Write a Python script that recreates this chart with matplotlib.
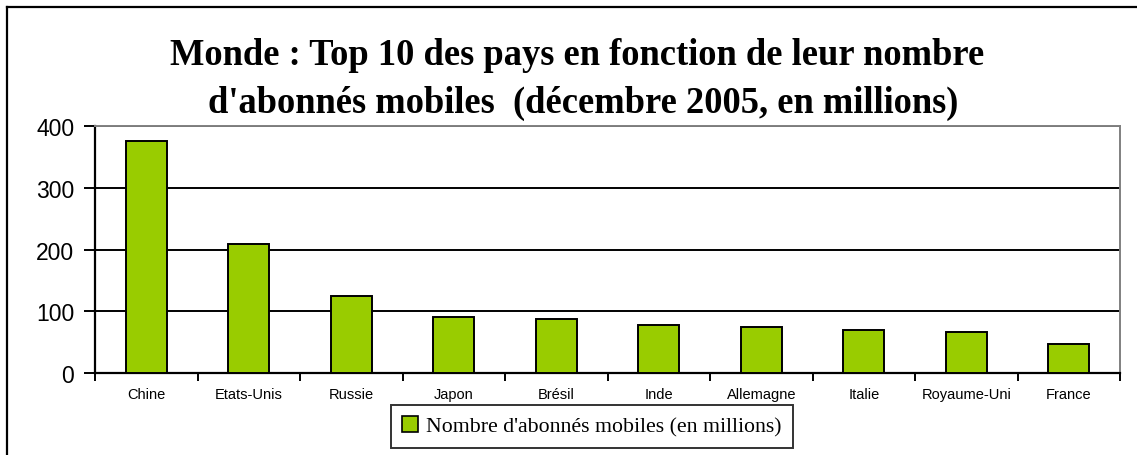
import matplotlib
matplotlib.use("Agg")
import matplotlib.pyplot as plt
from matplotlib.patches import Patch
from matplotlib.lines import Line2D
import numpy as np

categories = ["Chine", "Etats-Unis", "Russie", "Japon", "Brésil", "Inde",
              "Allemagne", "Italie", "Royaume-Uni", "France"]
values = [375, 209, 125, 91, 88, 78, 75, 69, 66, 47]
yticks = [0, 100, 200, 300, 400]
series_name = "Nombre d'abonnés mobiles (en millions)"
title_line1 = "Monde : Top 10 des pays en fonction de leur nombre"
title_line2 = "d'abonnés mobiles  (décembre 2005, en millions)"

W, H = 1137, 456
fig = plt.figure(figsize=(W / 100, H / 100), dpi=100)
fig.patch.set_facecolor("white")

left, right, top, bottom = 95, 1120, 127, 374
ax = fig.add_axes([left / W, 1 - bottom / H, (right - left) / W, (bottom - top) / H])

x = np.arange(len(categories))
ax.bar(x, values, width=0.4, color="#99CC00", edgecolor="black", linewidth=1.4, zorder=3)

ax.set_xlim(-0.5, len(categories) - 0.5)
ax.set_ylim(0, 400)
ax.set_yticks(yticks)
ax.set_yticklabels([str(v) for v in yticks], fontfamily="Liberation Sans", fontsize=16.5)
ax.yaxis.grid(True, color="black", linewidth=1.4, zorder=0)
ax.tick_params(axis="y", direction="out", length=8, width=1.4, pad=7)

ax.set_xticks(x)
ax.set_xticklabels(categories, fontfamily="Liberation Sans", fontsize=10.5)
ax.tick_params(axis="x", which="major", length=0, pad=10)
ax.set_xticks(np.arange(-0.5, len(categories) + 0.5, 1), minor=True)
ax.tick_params(axis="x", which="minor", direction="out", length=6, width=1.4)

for s in ["left", "bottom"]:
    ax.spines[s].set_color("black")
    ax.spines[s].set_linewidth(1.6)
for s in ["top", "right"]:
    ax.spines[s].set_color("#808080")
    ax.spines[s].set_linewidth(1.4)

fig.text(577 / W, 1 - 65 / H, title_line1, ha="center", va="baseline",
         fontfamily="Liberation Serif", fontweight="bold", fontsize=26.3)
fig.text(583 / W, 1 - 113 / H, title_line2, ha="center", va="baseline",
         fontfamily="Liberation Serif", fontweight="bold", fontsize=26.3)

handle = Patch(facecolor="#99CC00", edgecolor="black", linewidth=1.2)
leg = fig.legend([handle], [series_name], loc="center",
                 bbox_to_anchor=(592 / W, 1 - 427.5 / H),
                 prop={"family": "Liberation Serif", "size": 15.7},
                 frameon=True, fancybox=False, handlelength=0.7, handleheight=0.7,
                 handletextpad=0.4, borderpad=0.5, borderaxespad=0)
leg.get_frame().set_edgecolor("black")
leg.get_frame().set_linewidth(1.4)

# outer chart border (top and left visible)
fig.add_artist(Line2D([7 / W, 7 / W], [0, 1 - 8 / H], transform=fig.transFigure,
                      color="black", linewidth=1.6))
fig.add_artist(Line2D([7 / W, 1], [1 - 8 / H, 1 - 8 / H], transform=fig.transFigure,
                      color="black", linewidth=1.6))

fig.savefig("out.png", dpi=100)
